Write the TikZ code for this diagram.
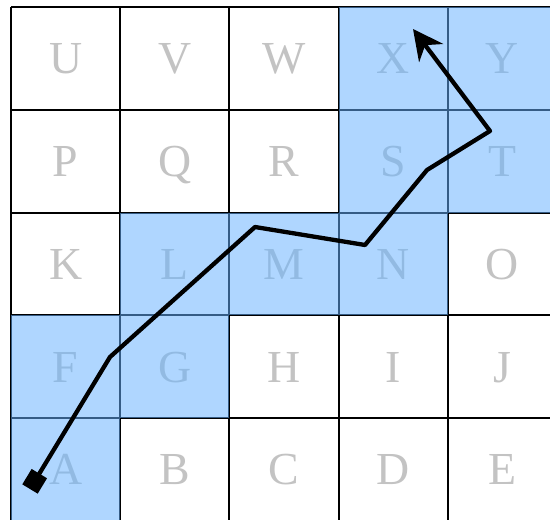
\documentclass[tikz,border=0pt]{standalone}
\usepackage{fontspec}
\setmainfont{Liberation Serif}
\usetikzlibrary{arrows.meta}
\definecolor{cellblue}{RGB}{102,178,255}
\definecolor{lettergray}{RGB}{195,195,195}

\begin{document}
\begin{tikzpicture}[x=1bp, y=-1bp,
    letter/.style={text=lettergray, font=\fontsize{46}{46}\selectfont, inner sep=0pt, text height=30.5bp, text depth=0bp},
    gridline/.style={line width=2bp},
    visited/.style={fill=cellblue, fill opacity=0.52},
    route/.style={line width=4.3bp, line join=round, {Square[length=18bp,width=18bp]}-{Stealth[length=30bp,width=30bp]}}
]
\useasboundingbox (0,0) rectangle (550,520);
\clip (0,0) rectangle (550,520);
\fill[white] (0,0) rectangle (550,520);

% grid
\foreach \k in {0,...,5} {
  \draw[gridline] (11+109.2*\k,7) -- (11+109.2*\k,522);
  \draw[gridline] (11,7+102.8*\k) -- (557,7+102.8*\k);
}

% cell letters, A bottom left
\foreach \lt [count=\i from 0] in {A,...,Y} {
  \pgfmathtruncatemacro\col{mod(\i,5)}
  \pgfmathtruncatemacro\row{4-int(\i/5)}
  \node[letter] (\lt) at (65.6+109.2*\col,58.4+102.8*\row) {\lt};
}

% cells on the route
\foreach \lt in {A,F,G,L,M,N,S,T,X,Y}
  \fill[visited] ([shift={(-54.6,-51.4)}]\lt) rectangle ++(109.2,102.8);

% route
\coordinate (start) at (30,489);
\coordinate (bend1) at (110,357);
\coordinate (bend2) at (255,227);
\coordinate (bend3) at (365,245);
\coordinate (bend4) at (427,170);
\coordinate (bend5) at (490,131);
\coordinate (goal) at (413,29);
\draw[route] (start) -- (bend1) -- (bend2) -- (bend3) -- (bend4) -- (bend5) -- (goal);
\end{tikzpicture}
\end{document}
